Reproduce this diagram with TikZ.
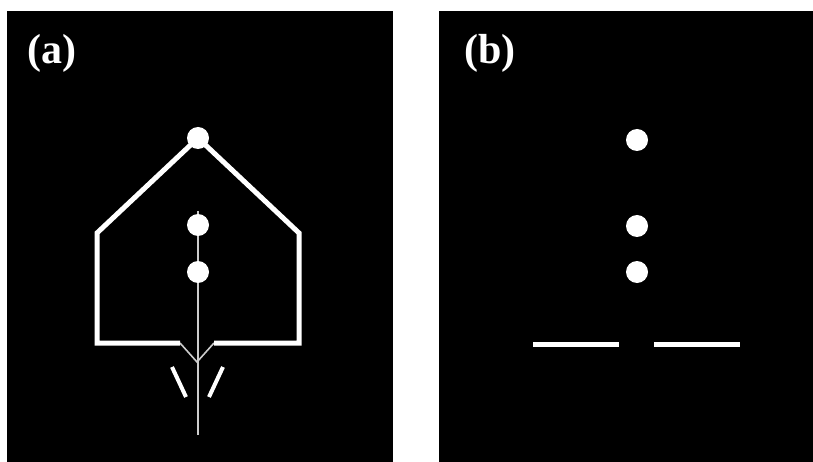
\documentclass[tikz,border=0pt]{standalone}
\usepackage{fontspec}
\setmainfont{Liberation Serif}
\begin{document}
\begin{tikzpicture}[x=1pt,y=-1pt,
  panel/.style={fill=black},
  thick line/.style={draw=white,line width=5pt,line join=miter},
  thin line/.style={draw=white!80!black,line width=1.6pt},
  dot/.style={circle,fill=white,minimum size=22pt,inner sep=0pt},
  tick/.style={draw=white,line width=4pt},
  lab/.style={text=white,font=\fontsize{42}{42}\selectfont\bfseries}]
\useasboundingbox (0,0) rectangle (813,462);
\fill[white] (0,0) rectangle (813,462);
\fill[panel] (7,11) rectangle (393,462);
\fill[panel] (439,11) rectangle (813,462);
\node[lab] (la) at (52,53) {(a)};
\node[lab] (lb) at (490,53) {(b)};
% panel a
\coordinate (apex) at (198,138);
\coordinate (vtop) at (198,211);
\coordinate (vbot) at (198,435);
\coordinate (tip) at (197,362);
\draw[thin line] (vtop) -- (vbot);
\draw[thin line] (180,343) -- (tip) -- (214,343);
\draw[thick line] (180,343) -- (97,343) -- (97,233) -- (apex) -- (299,233) -- (299,343) -- (214,343);
\draw[tick] (172,367) -- (186,397);
\draw[tick] (223,367) -- (209,397);
\node[dot] (a1) at (apex) {};
\node[dot] (a2) at (198,225) {};
\node[dot] (a3) at (198,272) {};
% panel b
\node[dot] (b1) at (637,140) {};
\node[dot] (b2) at (637,226) {};
\node[dot] (b3) at (637,272) {};
\draw[thick line] (533,344) -- (619,344);
\draw[thick line] (654,344) -- (740,344);
\end{tikzpicture}
\end{document}
